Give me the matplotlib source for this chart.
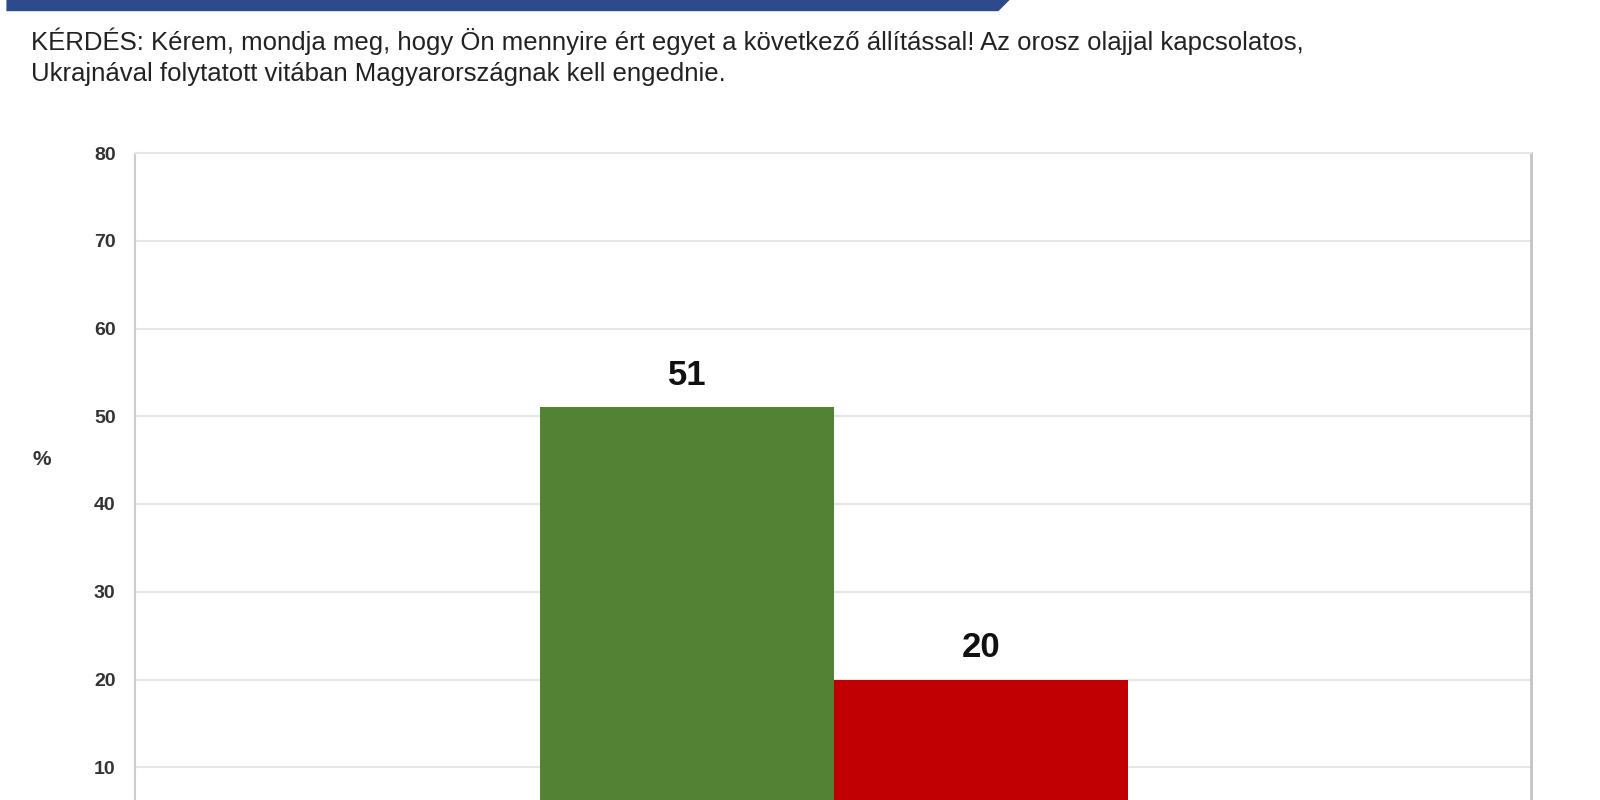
import matplotlib.pyplot as plt
from matplotlib import font_manager
from matplotlib.patches import Polygon

# data
series = ['Egyetért', 'Nem ért egyet']
values = [51, 20]
bar_colors = ['#548235', '#c00000']
yticks = [10, 20, 30, 40, 50, 60, 70, 80]

question_lines = [
    'KÉRDÉS: Kérem, mondja meg, hogy Ön mennyire ért egyet a következő állítással! Az orosz olajjal kapcsolatos,',
    'Ukrajnával folytatott vitában Magyarországnak kell engednie.',
]

names = {f.name for f in font_manager.fontManager.ttflist}
narrow = 'Liberation Sans Narrow' if 'Liberation Sans Narrow' in names else 'Liberation Sans'

fig = plt.figure(figsize=(16, 8), dpi=100)
fig.patch.set_facecolor('white')

# banner at the top
banner = Polygon([[0.004, 1.0], [0.631, 1.0], [0.624, 0.986], [0.004, 0.986]],
                 closed=True, transform=fig.transFigure, facecolor='#2d4b8c',
                 edgecolor='none')
fig.patches.append(banner)

# question text, fit the first line to its width in the picture
t1 = fig.text(31 / 1600, 1 - 41 / 800, question_lines[0], family=narrow,
              fontsize=17, color='#222222', va='center', ha='left')
fig.canvas.draw()
w = t1.get_window_extent().width
fs = 17 * 1274 / w
t1.set_fontsize(fs)
fig.text(31 / 1600, 1 - 74 / 800, question_lines[1], family=narrow,
         fontsize=fs, color='#222222', va='center', ha='left')

# chart area: zero line sits below the picture edge
ax = fig.add_axes([135 / 1600, -55 / 800, 1396 / 1600, 702 / 800])
x = list(range(len(values)))
bars = ax.bar(x, values, width=1.0, color=bar_colors, zorder=3)
ax.set_xlim(-1.878, 2.871)
ax.set_ylim(0, 80)

for b, v in zip(bars, values):
    ax.annotate(str(v), (b.get_x() + b.get_width() / 2, v), xytext=(0, 11),
                textcoords='offset points', ha='center', va='bottom',
                fontsize=25, fontweight='bold', family='Liberation Sans',
                color='#111111')

ax.set_yticks(yticks)
ax.set_yticklabels([str(t) for t in yticks], fontsize=14, fontweight='bold',
                   family='Liberation Sans', color='#333333')
ax.tick_params(axis='y', length=0, pad=14)
ax.set_xticks([])
ax.grid(axis='y', color='#e6e6e6', linewidth=1.5, zorder=0)
ax.set_axisbelow(True)

ax.spines['left'].set_color('#cccccc')
ax.spines['left'].set_linewidth(1.5)
ax.spines['right'].set_color('#c4c4c4')
ax.spines['right'].set_linewidth(2)
ax.spines['top'].set_color('#e6e6e6')
ax.spines['top'].set_linewidth(1.5)
ax.spines['bottom'].set_visible(False)

fig.text(42 / 1600, 1 - 460 / 800, '%', fontsize=15, fontweight='bold',
         family='Liberation Sans', color='#333333', ha='center', va='center')

fig.savefig('out.png', dpi=100, facecolor='white')
